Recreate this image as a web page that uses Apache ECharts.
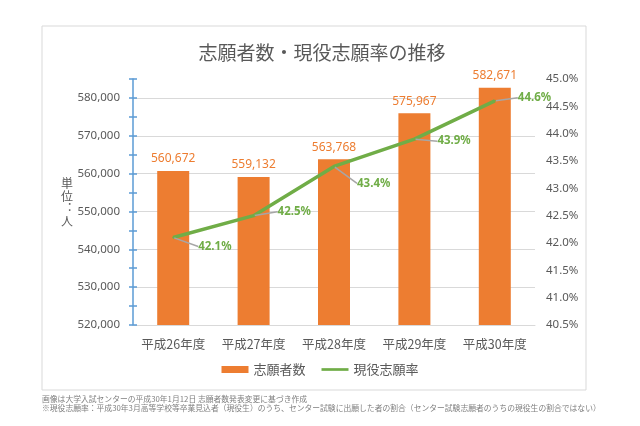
<!DOCTYPE html>
<html>
<head>
<meta charset="utf-8">
<script src="https://cdn.jsdelivr.net/npm/echarts@6/dist/echarts.min.js"></script>
<style>
html,body{margin:0;padding:0;background:#fff;}
#main{width:640px;height:426px;}
</style>
</head>
<body>
<div id="main"></div>
<script>
const categories = ['平成26年度', '平成27年度', '平成28年度', '平成29年度', '平成30年度'];
const applicants = [560672, 559132, 563768, 575967, 582671];
const rates = [42.1, 42.5, 43.4, 43.9, 44.6];
const titleText = '志願者数・現役志願率の推移';
const unitChars = ['単', '位', '︓', '人'];
const note1 = '画像は大学入試センターの平成30年1月12日 志願者数発表変更に基づき作成';
const note2 = '※現役志願率：平成30年3月高等学校等卒業見込者（現役生）のうち、センター試験に出願した者の割合（センター試験志願者のうちの現役生の割合ではない）';

const FONT = '"Noto Sans", "Noto Sans CJK JP", sans-serif';
const JFONT = '"Noto Sans CJK JP", "Noto Sans", sans-serif';
const labelShift = [[24, 9], [23, -4], [22, 17], [22, 2], [22, -3]];
const unitY = [183, 196.5, 208, 221];

const chart = echarts.init(document.getElementById('main'), null, {renderer: 'canvas'});
const fmtNum = v => String(v).replace(/\B(?=(\d{3})+(?!\d))/g, ',');

const graphics = [
  {type: 'rect', z: -10, shape: {x: 42, y: 26, width: 544, height: 364},
   style: {fill: '#ffffff', stroke: '#d9d9d9', lineWidth: 1}},
  {type: 'text', left: 42, top: 395, style: {text: note1, fill: '#7f7f7f', font: '7.8px ' + JFONT}},
  {type: 'text', left: 42, top: 404, style: {text: note2, fill: '#7f7f7f', font: '7.8px ' + JFONT}}
];
unitChars.forEach((c, i) => {
  graphics.push({type: 'text', x: 67, y: unitY[i],
    style: {text: c, fill: '#595959', font: '12px ' + JFONT, align: 'center', verticalAlign: 'middle'}});
});

chart.setOption({
  backgroundColor: '#ffffff',
  animation: false,
  textStyle: {fontFamily: FONT},
  graphic: graphics,
  title: {
    text: titleText, left: 317, textAlign: 'center', top: 38,
    textStyle: {fontFamily: JFONT, fontSize: 19, fontWeight: 'normal', color: '#595959'}
  },
  legend: {
    bottom: 45, left: 'center',
    itemGap: 16, itemWidth: 27, itemHeight: 7,
    textStyle: {fontFamily: JFONT, fontSize: 13, color: '#595959'},
    data: [
      {name: '志願者数', icon: 'rect'},
      {name: '現役志願率', icon: 'path://M0,0 L30,0 L30,3 L0,3 Z'}
    ]
  },
  grid: {left: 133, right: 105, top: 79, bottom: 101, containLabel: false},
  xAxis: {
    type: 'category', data: categories,
    axisLine: {show: true, lineStyle: {color: '#d9d9d9'}},
    axisTick: {show: false},
    axisLabel: {color: '#595959', fontSize: 12.5, fontFamily: JFONT, margin: 13, interval: 0}
  },
  yAxis: [
    {
      type: 'value', position: 'left', min: 520000, max: 585000, interval: 5000,
      axisLine: {show: true, lineStyle: {color: '#5b9bd5', width: 1.5}},
      axisTick: {show: true, length: 4, lineStyle: {color: '#5b9bd5', width: 1.5}},
      splitLine: {show: true, lineStyle: {color: ['#d9d9d9', 'rgba(0,0,0,0)'], width: 1}},
      axisLabel: {color: '#595959', fontSize: 11.5, margin: 13,
        formatter: v => (v % 10000 === 0 ? fmtNum(v) : '')}
    },
    {
      type: 'value', position: 'right', min: 40.5, max: 45.0, interval: 0.5,
      axisLine: {show: false}, axisTick: {show: false}, splitLine: {show: false},
      axisLabel: {color: '#595959', fontSize: 11.5, margin: 11,
        formatter: v => v.toFixed(1) + '%'}
    },
    {
      type: 'value', position: 'left', min: 520000, max: 585000, interval: 5000,
      axisLine: {show: false}, splitLine: {show: false}, axisLabel: {show: false},
      axisTick: {show: true, inside: true, length: 4, lineStyle: {color: '#5b9bd5', width: 1.5}}
    }
  ],
  series: [
    {
      name: '志願者数', type: 'bar', yAxisIndex: 0, data: applicants,
      barWidth: 32,
      itemStyle: {color: '#ed7d31'},
      label: {show: true, position: 'top', distance: 6, color: '#ed7d31', fontSize: 12,
        formatter: p => fmtNum(p.value)}
    },
    {
      name: '現役志願率', type: 'line', yAxisIndex: 1, data: rates,
      symbol: 'circle', symbolSize: 2, showSymbol: true,
      itemStyle: {color: '#70ad47'},
      lineStyle: {color: '#70ad47', width: 3.5},
      z: 5,
      label: {show: true, position: 'right', distance: 0, color: '#70ad47', fontSize: 11.5, fontWeight: 'bold',
        formatter: p => p.value.toFixed(1) + '%'},
      labelLine: {show: true, lineStyle: {color: '#a6a6a6', width: 1.5}},
      labelLayout: p => ({dx: labelShift[p.dataIndex][0], dy: labelShift[p.dataIndex][1]})
    }
  ]
});
</script>
</body>
</html>
